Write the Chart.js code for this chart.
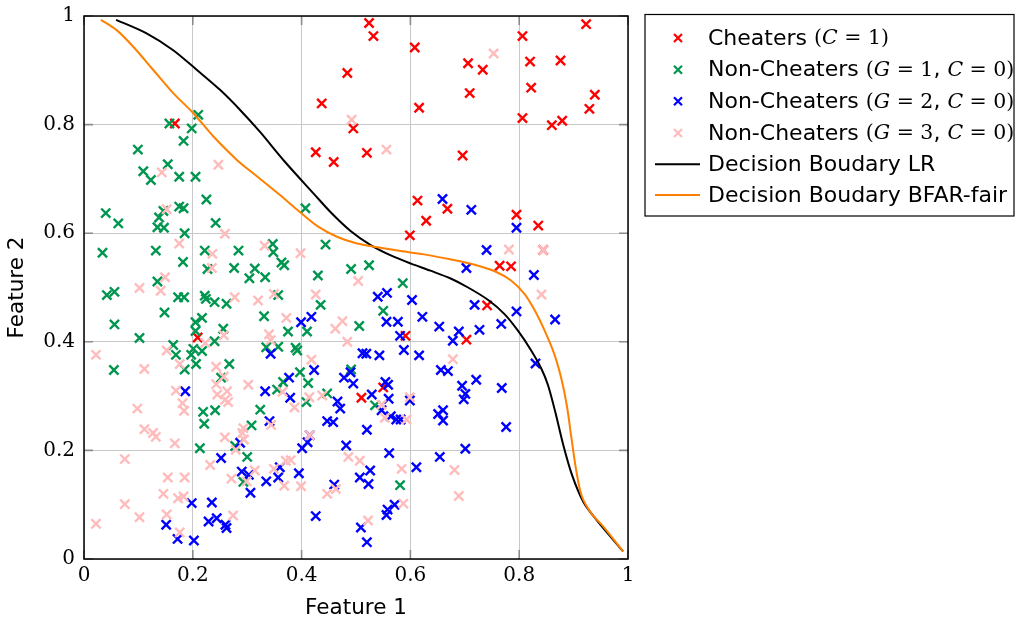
<!DOCTYPE html>
<html>
<head>
<meta charset="utf-8">
<script src="https://cdn.jsdelivr.net/npm/chart.js@4/dist/chart.umd.min.js"></script>
<style>
html,body{margin:0;padding:0;background:#fff;}
canvas{display:block;}
</style>
</head>
<body>
<canvas id="c" width="1017" height="621"></canvas>
<script>
// ---------- DATA ----------
const xTicks = [0, 0.2, 0.4, 0.6, 0.8, 1];
const yTicks = [0, 0.2, 0.4, 0.6, 0.8, 1];

const cheaters = [
[0.524,0.987],[0.532,0.963],[0.608,0.942],[0.484,0.895],[0.437,0.839],[0.616,0.831],[0.495,0.793],[0.426,0.749],[0.520,0.748],[0.459,0.731],
[0.923,0.985],[0.806,0.963],[0.706,0.913],[0.733,0.901],[0.820,0.916],[0.876,0.918],[0.822,0.868],[0.709,0.858],[0.939,0.855],[0.929,0.829],
[0.806,0.812],[0.860,0.799],[0.879,0.807],[0.696,0.743],[0.167,0.802],[0.209,0.408],
[0.613,0.660],[0.668,0.645],[0.629,0.623],[0.599,0.596],[0.591,0.411],
[0.795,0.634],[0.835,0.614],[0.844,0.569],[0.764,0.540],[0.785,0.539],[0.741,0.467],[0.703,0.404],
[0.550,0.316],[0.510,0.297]
];

const nonCheatersG1 = [
[0.210,0.818],[0.157,0.802],[0.198,0.793],[0.183,0.770],[0.099,0.754],[0.154,0.727],[0.109,0.714],[0.123,0.698],[0.175,0.704],[0.205,0.704],
[0.225,0.662],[0.175,0.649],[0.183,0.646],[0.146,0.641],[0.040,0.637],[0.138,0.629],[0.063,0.618],[0.242,0.619],[0.135,0.611],[0.147,0.610],
[0.185,0.600],[0.034,0.564],[0.132,0.568],[0.222,0.568],[0.284,0.568],[0.182,0.547],[0.276,0.536],[0.227,0.534],[0.314,0.535],[0.304,0.517],
[0.333,0.519],[0.135,0.511],[0.042,0.486],[0.056,0.492],[0.173,0.482],[0.184,0.482],[0.222,0.485],[0.224,0.479],[0.240,0.473],[0.262,0.470],
[0.148,0.454],[0.331,0.447],[0.056,0.432],[0.217,0.444],[0.205,0.436],[0.256,0.424],[0.205,0.420],[0.102,0.407],[0.240,0.401],[0.335,0.390],
[0.164,0.394],[0.201,0.387],[0.217,0.383],[0.169,0.376],[0.197,0.376],[0.206,0.359],[0.267,0.359],[0.055,0.348],[0.185,0.349],[0.252,0.334],
[0.407,0.646],[0.444,0.579],[0.347,0.580],[0.348,0.565],[0.363,0.546],[0.368,0.541],[0.491,0.534],[0.524,0.541],[0.430,0.522],
[0.586,0.508],[0.357,0.486],[0.435,0.468],[0.550,0.457],[0.506,0.429],[0.375,0.419],[0.410,0.419],
[0.357,0.391],[0.389,0.389],[0.392,0.384],[0.397,0.344],[0.491,0.349],
[0.219,0.271],[0.241,0.274],[0.324,0.275],[0.221,0.249],[0.308,0.246],[0.278,0.208],[0.213,0.204],[0.300,0.188],[0.293,0.142],
[0.366,0.326],[0.412,0.324],[0.355,0.312],[0.447,0.305],[0.409,0.289],[0.535,0.283],[0.581,0.136]
];

const nonCheatersG2 = [
[0.659,0.663],[0.557,0.490],[0.540,0.483],[0.603,0.477],[0.418,0.446],[0.399,0.436],[0.556,0.437],[0.577,0.437],[0.622,0.446],[0.653,0.428],
[0.581,0.411],[0.343,0.378],[0.588,0.385],[0.512,0.379],[0.519,0.378],[0.543,0.375],[0.616,0.375],[0.423,0.348],[0.490,0.344],[0.377,0.334],
[0.478,0.334],[0.656,0.348],[0.669,0.346],
[0.712,0.643],[0.795,0.610],[0.740,0.569],[0.703,0.536],[0.827,0.523],[0.718,0.468],[0.795,0.456],[0.866,0.441],[0.767,0.433],[0.727,0.422],
[0.689,0.419],[0.678,0.402],[0.830,0.360],[0.721,0.330],
[0.695,0.319],[0.768,0.315],[0.701,0.304],[0.698,0.294],[0.776,0.243],[0.701,0.203],
[0.495,0.323],[0.554,0.326],[0.559,0.321],[0.333,0.309],[0.379,0.297],[0.529,0.303],[0.560,0.295],[0.599,0.292],[0.466,0.290],[0.471,0.277],
[0.547,0.274],[0.341,0.254],[0.447,0.254],[0.458,0.252],[0.564,0.263],[0.574,0.257],[0.582,0.257],[0.651,0.267],[0.660,0.274],[0.660,0.255],
[0.520,0.238],[0.415,0.228],[0.411,0.215],[0.401,0.204],[0.482,0.209],[0.561,0.195],[0.654,0.188],[0.611,0.169],[0.360,0.169],[0.526,0.163],
[0.395,0.158],[0.335,0.143],[0.357,0.150],[0.507,0.150],[0.523,0.138],[0.460,0.137],[0.571,0.100],[0.558,0.091],[0.556,0.081],[0.426,0.079],
[0.509,0.058],[0.520,0.031],
[0.186,0.309],[0.287,0.214],[0.252,0.186],[0.290,0.161],[0.303,0.155],[0.306,0.122],[0.198,0.103],[0.235,0.104],[0.229,0.069],[0.244,0.075],
[0.260,0.063],[0.262,0.057],[0.151,0.063],[0.172,0.037],[0.202,0.034]
];

const nonCheatersG3 = [
[0.247,0.726],[0.143,0.712],[0.492,0.809],[0.556,0.754],[0.753,0.931],
[0.152,0.644],[0.259,0.599],[0.175,0.581],[0.236,0.562],[0.332,0.577],[0.235,0.536],[0.149,0.519],[0.102,0.499],[0.141,0.494],[0.277,0.482],
[0.320,0.476],[0.257,0.412],[0.223,0.398],[0.152,0.384],[0.022,0.376],[0.176,0.359],[0.111,0.350],[0.243,0.354],[0.257,0.336],
[0.398,0.563],[0.504,0.512],[0.349,0.488],[0.426,0.487],[0.372,0.444],[0.475,0.438],[0.462,0.424],[0.340,0.414],[0.343,0.403],[0.484,0.400],[0.418,0.367],
[0.781,0.570],[0.844,0.569],[0.841,0.487],[0.678,0.368],[0.681,0.164],[0.689,0.116],
[0.365,0.308],[0.438,0.301],[0.414,0.298],[0.547,0.284],[0.599,0.298],[0.387,0.279],[0.344,0.247],[0.553,0.260],[0.593,0.257],[0.415,0.228],
[0.486,0.188],[0.507,0.181],[0.584,0.166],[0.371,0.181],[0.380,0.182],[0.349,0.166],[0.368,0.135],[0.399,0.134],[0.463,0.129],[0.447,0.120],
[0.587,0.102],[0.522,0.071],
[0.243,0.322],[0.263,0.309],[0.245,0.303],[0.259,0.293],[0.265,0.289],[0.302,0.321],[0.169,0.310],[0.098,0.277],[0.181,0.287],[0.184,0.273],
[0.293,0.241],[0.111,0.239],[0.127,0.232],[0.132,0.225],[0.291,0.232],[0.259,0.224],[0.294,0.220],[0.167,0.213],[0.279,0.201],[0.075,0.184],
[0.232,0.173],[0.314,0.163],[0.271,0.148],[0.299,0.143],[0.154,0.150],[0.185,0.150],[0.146,0.120],[0.173,0.112],[0.183,0.115],[0.075,0.101],
[0.102,0.077],[0.152,0.082],[0.274,0.080],[0.022,0.065],[0.176,0.049]
];

const boundaryLR = [
[0.059,0.993],[0.115,0.968],[0.164,0.937],[0.207,0.901],[0.250,0.864],[0.287,0.827],[0.324,0.786],[0.368,0.733],[0.423,0.672],[0.453,0.639],
[0.490,0.604],[0.527,0.578],[0.564,0.559],[0.601,0.544],[0.637,0.531],[0.673,0.517],[0.706,0.500],[0.743,0.477],[0.773,0.451],[0.798,0.420],
[0.822,0.384],[0.841,0.350],[0.853,0.320],[0.866,0.272],[0.881,0.210],[0.897,0.155],[0.918,0.105],[0.942,0.072],[0.991,0.014]
];

const boundaryBFAR = [
[0.031,0.993],[0.060,0.974],[0.091,0.943],[0.127,0.901],[0.164,0.858],[0.201,0.821],[0.238,0.778],[0.281,0.735],[0.320,0.703],[0.358,0.672],
[0.392,0.643],[0.429,0.613],[0.466,0.593],[0.502,0.581],[0.540,0.574],[0.576,0.568],[0.625,0.561],[0.673,0.552],[0.718,0.542],[0.755,0.530],
[0.785,0.513],[0.810,0.488],[0.829,0.457],[0.847,0.420],[0.865,0.376],[0.878,0.330],[0.888,0.280],[0.896,0.223],[0.905,0.162],[0.915,0.116],
[0.932,0.085],[0.957,0.057],[0.991,0.014]
];

// ---------- STYLE ----------
const RED = 'rgb(255,0,0)';
const GREEN = 'rgb(0,150,80)';
const BLUE = 'rgb(0,0,255)';
const PINK = 'rgb(255,188,188)';
const BLACK = 'rgb(0,0,0)';
const ORANGE = 'rgb(255,128,0)';

const SANS = '"DejaVu Sans", sans-serif';
const SERIF = '"DejaVu Serif", serif';

const toPts = a => a.map(p => ({x: p[0], y: p[1]}));

function scatterDs(label, arr, color, order) {
  return {
    type: 'scatter', label, data: toPts(arr), order,
    pointStyle: 'crossRot', pointRadius: 6.5, pointHoverRadius: 6.5,
    borderColor: color, backgroundColor: color, pointBorderWidth: 2.4, showLine: false
  };
}
function lineDs(label, arr, color, order) {
  return {
    type: 'scatter', label, data: toPts(arr), order, showLine: true,
    borderColor: color, backgroundColor: color, borderWidth: 2, pointRadius: 0,
    tension: 0.3, fill: false
  };
}

const legendItems = [
  {kind:'marker', color: RED, parts: [['s','Cheaters '],['r','('],['i','C'],['r',' = 1)']]},
  {kind:'marker', color: GREEN, parts: [['s','Non-Cheaters '],['r','('],['i','G'],['r',' = 1'],['s',', '],['i','C'],['r',' = 0)']]},
  {kind:'marker', color: BLUE, parts: [['s','Non-Cheaters '],['r','('],['i','G'],['r',' = 2'],['s',', '],['i','C'],['r',' = 0)']]},
  {kind:'marker', color: PINK, parts: [['s','Non-Cheaters '],['r','('],['i','G'],['r',' = 3'],['s',', '],['i','C'],['r',' = 0)']]},
  {kind:'line', color: BLACK, parts: [['s','Decision Boudary LR']]},
  {kind:'line', color: ORANGE, parts: [['s','Decision Boudary BFAR-fair']]}
];

const framePlugin = {
  id: 'frame',
  afterDraw(chart) {
    const ctx = chart.ctx, a = chart.chartArea;
    const xs = chart.scales.x, ys = chart.scales.y;
    ctx.save();
    // inner tick marks
    ctx.strokeStyle = 'rgb(140,140,140)';
    ctx.lineWidth = 1.6;
    const L = 9;
    xTicks.forEach(v => {
      const px = xs.getPixelForValue(v);
      ctx.beginPath();
      ctx.moveTo(px, a.bottom); ctx.lineTo(px, a.bottom - L);
      ctx.moveTo(px, a.top); ctx.lineTo(px, a.top + L);
      ctx.stroke();
    });
    yTicks.forEach(v => {
      const py = ys.getPixelForValue(v);
      ctx.beginPath();
      ctx.moveTo(a.left, py); ctx.lineTo(a.left + L, py);
      ctx.moveTo(a.right, py); ctx.lineTo(a.right - L, py);
      ctx.stroke();
    });
    // frame
    ctx.strokeStyle = '#000';
    ctx.lineWidth = 1.5;
    ctx.strokeRect(a.left, a.top, a.right - a.left, a.bottom - a.top);

    // legend
    const bx = 645, by = 14.5, bw = 369, bh = 201.5;
    ctx.fillStyle = '#fff';
    ctx.fillRect(bx, by, bw, bh);
    ctx.strokeStyle = '#000';
    ctx.lineWidth = 1.2;
    ctx.strokeRect(bx, by, bw, bh);
    const rowY = [38, 69.7, 101.3, 133, 164.3, 195];
    const fonts = {
      s: '22px ' + SANS,
      r: '20.5px ' + SERIF,
      i: 'italic 20.5px ' + SERIF
    };
    ctx.textBaseline = 'middle';
    ctx.textAlign = 'left';
    legendItems.forEach((it, k) => {
      const y = rowY[k];
      if (it.kind === 'marker') {
        ctx.strokeStyle = it.color;
        ctx.lineWidth = 2.2;
        const h = 4;
        ctx.beginPath();
        ctx.moveTo(678 - h, y - h); ctx.lineTo(678 + h, y + h);
        ctx.moveTo(678 - h, y + h); ctx.lineTo(678 + h, y - h);
        ctx.stroke();
      } else {
        ctx.strokeStyle = it.color;
        ctx.lineWidth = 2;
        ctx.beginPath();
        ctx.moveTo(655, y); ctx.lineTo(700, y);
        ctx.stroke();
      }
      let x = 708;
      ctx.fillStyle = '#000';
      it.parts.forEach(([f, t]) => {
        ctx.font = fonts[f];
        ctx.fillText(t, x, y + 1);
        x += ctx.measureText(t).width;
      });
    });
    ctx.restore();
  }
};

const chart = new Chart(document.getElementById('c'), {
  type: 'scatter',
  data: {
    datasets: [
      scatterDs('Cheaters (C = 1)', cheaters, RED, 5),
      scatterDs('Non-Cheaters (G = 1, C = 0)', nonCheatersG1, GREEN, 4),
      scatterDs('Non-Cheaters (G = 2, C = 0)', nonCheatersG2, BLUE, 3),
      scatterDs('Non-Cheaters (G = 3, C = 0)', nonCheatersG3, PINK, 2),
      lineDs('Decision Boudary LR', boundaryLR, BLACK, 1),
      lineDs('Decision Boudary BFAR-fair', boundaryBFAR, ORANGE, 0)
    ]
  },
  options: {
    responsive: false,
    animation: false,
    devicePixelRatio: 1,
    layout: { padding: { top: 16, right: 389, left: 0, bottom: 0 } },
    plugins: { legend: { display: false }, tooltip: { enabled: false } },
    scales: {
      x: {
        type: 'linear', min: 0, max: 1,
        afterBuildTicks(s) { s.ticks = xTicks.map(v => ({value: v})); },
        afterFit(s) { s.height = 62; s.paddingLeft = 0; s.paddingRight = 0; s.paddingTop = 0; s.paddingBottom = 0; },
        grid: { color: 'rgb(200,200,200)', lineWidth: 1, drawTicks: false },
        border: { display: false },
        ticks: { padding: 5, color: '#000', font: { family: SERIF, size: 20 }, maxRotation: 0,
                 callback: v => String(v) },
        title: { display: true, text: 'Feature 1', color: '#000', font: { family: SANS, size: 21.5 },
                 padding: { top: 0, bottom: 0 } }
      },
      y: {
        type: 'linear', min: 0, max: 1,
        afterBuildTicks(s) { s.ticks = yTicks.map(v => ({value: v})); },
        afterFit(s) { s.width = 84; s.paddingLeft = 0; s.paddingRight = 0; s.paddingTop = 0; s.paddingBottom = 0; },
        grid: { color: 'rgb(200,200,200)', lineWidth: 1, drawTicks: false },
        border: { display: false },
        ticks: { padding: 9, color: '#000', font: { family: SERIF, size: 20 },
                 callback: v => String(v) },
        title: { display: true, text: 'Feature 2', color: '#000', font: { family: SANS, size: 21.5 },
                 padding: { top: 5, bottom: 0 } }
      }
    }
  },
  plugins: [framePlugin]
});
</script>
</body>
</html>
